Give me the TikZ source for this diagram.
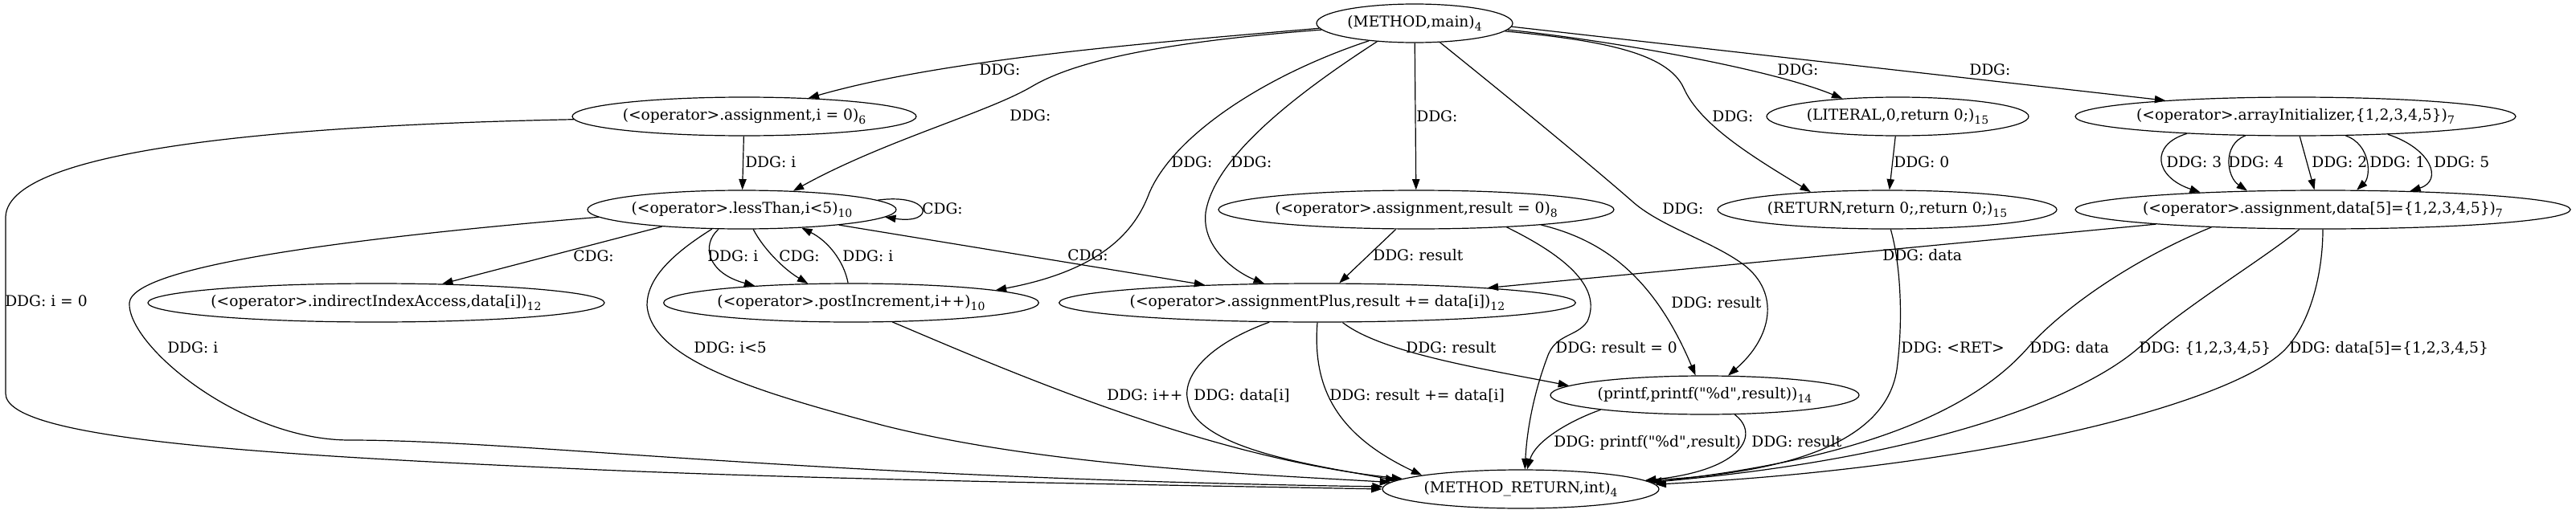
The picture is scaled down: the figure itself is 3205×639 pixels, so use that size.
\documentclass[tikz,border=0pt]{standalone}
\usepackage{fontspec}
\newfontfamily\dvs{DejaVu Serif}
\usetikzlibrary{shapes.geometric,arrows.meta}
\newcommand{\sbs}[1]{\raisebox{-3.5pt}{\fontsize{10.5pt}{12pt}\selectfont #1}}
\begin{document}
\begin{tikzpicture}[x=0.75pt,y=-0.75pt,
  font=\dvs\fontsize{14pt}{17pt}\selectfont,
  gnode/.style={ellipse, draw, line width=0.9pt, inner sep=0pt, minimum height=36pt},
  lbl/.style={anchor=west, inner sep=0pt, text height=10.2pt, text depth=0pt},
  dep/.style={-{Triangle[length=10pt,width=7pt]}, line width=0.9pt}]
\useasboundingbox (0,0) rectangle (3205,639);

% nodes
\node[gnode, minimum width=183pt] (M) at (1760,29) {\makebox[0pt]{(METHOD,main)\sbs{4}}};
\node[gnode, minimum width=321pt] (A0) at (926,145) {\makebox[0pt]{(<operator>.assignment,i = 0)\sbs{6}}};
\node[gnode, minimum width=288pt] (LT) at (923,261) {\makebox[0pt]{(<operator>.lessThan,i<5)\sbs{10}}};
\node[gnode, minimum width=369pt] (AR) at (1762,261) {\makebox[0pt]{(<operator>.assignment,result = 0)\sbs{8}}};
\node[gnode, minimum width=244.5pt] (LIT) at (2361,145) {\makebox[0pt]{(LITERAL,0,return 0;)\sbs{15}}};
\node[gnode, minimum width=411pt] (AI) at (2856,145) {\makebox[0pt]{(<operator>.arrayInitializer,\{1,2,3,4,5\})\sbs{7}}};
\node[gnode, minimum width=316.5pt] (RET) at (2348,261) {\makebox[0pt]{(RETURN,return 0;,return 0;)\sbs{15}}};
\node[gnode, minimum width=462pt] (AD) at (2890,261) {\makebox[0pt]{(<operator>.assignment,data[5]=\{1,2,3,4,5\})\sbs{7}}};
\node[gnode, minimum width=426pt] (IIA) at (468,377) {\makebox[0pt]{(<operator>.indirectIndexAccess,data[i])\sbs{12}}};
\node[gnode, minimum width=350pt] (PI) at (1059,377) {\makebox[0pt]{(<operator>.postIncrement,i++)\sbs{10}}};
\node[gnode, minimum width=482pt] (AP) at (1639,377) {\makebox[0pt]{(<operator>.assignmentPlus,result += data[i])\sbs{12}}};
\node[gnode, minimum width=288pt] (PF) at (2121,492) {\makebox[0pt]{(printf,printf("\%d",result))\sbs{14}}};
\node[gnode, minimum width=258pt] (MR) at (1892,609) {\makebox[0pt]{(METHOD\_RETURN,int)\sbs{4}}};

% edges from METHOD main
\draw[dep] (M.183) .. controls (1450,52) and (1180,72) .. (A0.16);
\draw[dep] (M.184) .. controls (1450,52) and (1340,75) .. (1285,107) .. controls (1230,140) and (1100,175) .. (LT.20);
\draw[dep] (M) -- (AR);
\draw[dep] (M.201) .. controls (1570,95) and (1460,170) .. (1430,240) .. controls (1415,280) and (1380,335) .. (PI.5);
\draw[dep] (M.206) .. controls (1600,125) and (1510,200) .. (1500,265) .. controls (1495,310) and (1540,340) .. (AP.160);
\draw[dep] (M.323) .. controls (1900,140) and (1990,215) .. (2030,250) .. controls (2065,282) and (2130,300) .. (2170,330) .. controls (2215,365) and (2205,420) .. (PF.40);
\draw[dep] (M.355) .. controls (1990,50) and (2075,65) .. (2095,110) .. controls (2115,155) and (2180,195) .. (RET.167);
\draw[dep] (M.356) .. controls (2000,50) and (2200,85) .. (LIT.162);
\draw[dep] (M.358) -- (AI.173);

% literal / array initializer
\draw[dep] (LIT) -- (RET);
\draw[dep] (AI.189) .. controls (2675,180) and (2680,220) .. (AD.172);
\draw[dep] (AI.201) .. controls (2765,180) and (2770,220) .. (AD.166);
\draw[dep] (AI.282) -- (AD.113);
\draw[dep] (AI.339) .. controls (2950,180) and (2950,220) .. (AD.30);
\draw[dep] (AI.349) .. controls (3025,185) and (3040,225) .. (AD.12);

% assignment data
\draw[dep] (AD.185) -- (AP.5);
\draw[dep] (AD.189) .. controls (2660,320) and (2570,380) .. (2523,433) .. controls (2460,505) and (2330,570) .. (MR.3);
\draw[dep] (AD.220) .. controls (2820,320) and (2720,380) .. (2661,433) .. controls (2590,495) and (2400,570) .. (MR.3);
\draw[dep] (AD.270) .. controls (2890,340) and (2875,400) .. (2845,433) .. controls (2790,495) and (2500,580) .. (MR.2);
\draw[dep] (RET.280) .. controls (2365,330) and (2368,400) .. (2360,460) .. controls (2345,560) and (2200,590) .. (MR.4);

% assignment result
\draw[dep] (AR.224) -- (AP.42);
\draw[dep] (AR.353) .. controls (2000,300) and (2060,350) .. (PF.115);
\draw[dep] (AR.349) .. controls (1940,315) and (1995,355) .. (1975,400) .. controls (1962,420) and (1935,415) .. (1925,445) .. controls (1910,485) and (1900,530) .. (MR.78);

% assignmentPlus
\draw[dep] (AP.322) .. controls (1720,440) and (1850,460) .. (PF.176);
\draw[dep] (AP.202) .. controls (1500,430) and (1470,470) .. (1478,500) .. controls (1490,560) and (1640,580) .. (MR.176);
\draw[dep] (AP.270) .. controls (1633,480) and (1660,540) .. (MR.172);

% postIncrement
\draw[dep] (PI.335) .. controls (1250,460) and (1500,570) .. (MR.175);

% lessThan
\draw[dep] (LT.183) .. controls (450,295) and (165,330) .. (161,377) .. controls (158,430) and (300,548) .. (435,548) .. controls (650,548) and (1000,595) .. (MR.179);
\draw[dep] (A0.181) .. controls (400,155) and (10,180) .. (7,270) -- (7,490) .. controls (7,545) and (300,565) .. (702,583) .. controls (1000,597) and (1400,603) .. (MR.180);
\draw[dep] (LT.213) .. controls (830,320) and (805,350) .. (805,380) .. controls (810,450) and (950,490) .. (1100,530) .. controls (1300,580) and (1550,590) .. (MR.177);
\draw[dep] (LT.192) -- (IIA.16);
\draw[dep] (LT.220) .. controls (872,305) and (880,340) .. (PI.170);
\draw[dep] (LT.300) .. controls (950,310) and (975,335) .. (PI.156);
\draw[dep] (PI.99) .. controls (1050,325) and (1030,300) .. (LT.343);
\draw[dep] (LT.4) .. controls (1160,240) and (1165,280) .. (LT.357);
\draw[dep] (LT.351) -- (AP.171);
\draw[dep] (A0) -- (LT);

% printf
\draw[dep] (PF.188) .. controls (1950,525) and (1910,550) .. (MR.72);
\draw[dep] (PF.327) .. controls (2190,540) and (2170,585) .. (MR.4);

% labels
\node[lbl] (l1) at (1218,87) {DDG:};
\node[lbl] (l2) at (1256,144) {DDG:};
\node[lbl] (l3) at (1762,145) {DDG:};
\node[lbl] (l4) at (1457,202) {DDG:};
\node[lbl] (l5) at (1531,202) {DDG:};
\node[lbl] (l6) at (2068,260) {DDG:};
\node[lbl] (l7) at (2130,145) {DDG:};
\node[lbl] (l8) at (2211,87) {DDG:};
\node[lbl] (l9) at (2450,87) {DDG:};
\node[lbl] (l10) at (2356,202) {DDG: 0};
\node[lbl] (l11) at (2695,202) {DDG: 3};
\node[lbl] (l12) at (2772,202) {DDG: 4};
\node[lbl] (l13) at (2876,202) {DDG: 2};
\node[lbl] (l14) at (2948,202) {DDG: 1};
\node[lbl] (l15) at (3028,202) {DDG: 5};
\node[lbl] (l16) at (2342,318) {DDG: data};
\node[lbl] (l17) at (2525,433) {DDG: data};
\node[lbl] (l18) at (2661,433) {DDG: \{1,2,3,4,5\}};
\node[lbl] (l19) at (2848,433) {DDG: data[5]=\{1,2,3,4,5\}};
\node[lbl] (l20) at (2365,433) {DDG: <RET>};
\node[lbl] (l21) at (1708,318) {DDG: result};
\node[lbl] (l22) at (2079,377) {DDG: result};
\node[lbl] (l23) at (1935,433) {DDG: result = 0};
\node[lbl] (l24) at (1749,433) {DDG: result};
\node[lbl] (l25) at (1485,492) {DDG: data[i]};
\node[lbl] (l26) at (1654,492) {DDG: result += data[i]};
\node[lbl] (l27) at (1377,492) {DDG: i++};
\node[lbl] (l28) at (208,433) {DDG: i};
\node[lbl] (l29) at (6,375) {DDG: i = 0};
\node[lbl] (l30) at (863,433) {DDG: i<5};
\node[lbl] (l31) at (713,319) {CDG:};
\node[lbl] (l32) at (880,319) {DDG: i};
\node[lbl] (l33) at (969,319) {CDG:};
\node[lbl] (l34) at (1048,319) {DDG: i};
\node[lbl] (l35) at (1147,260) {CDG:};
\node[lbl] (l36) at (1328,318) {CDG:};
\node[lbl] (l37) at (927,202) {DDG: i};
\node[lbl] (l38) at (1933,550) {DDG: printf("\%d",result)};
\node[lbl] (l39) at (2179,550) {DDG: result};
\end{tikzpicture}
\end{document}
